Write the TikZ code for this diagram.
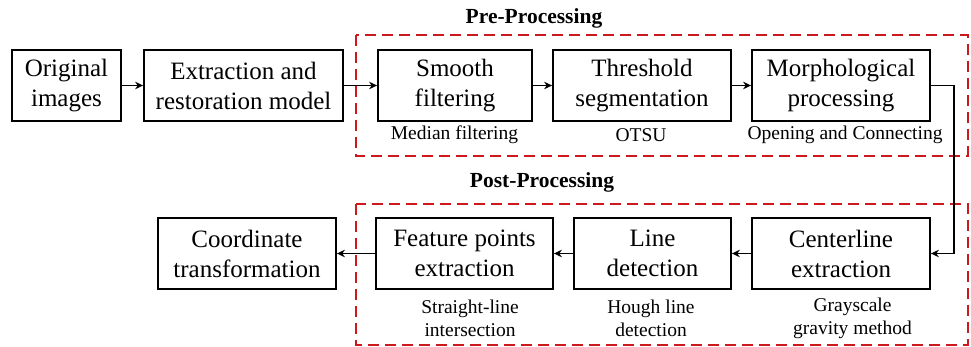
\documentclass[tikz,border=0pt]{standalone}
\usepackage{fontspec}
\setmainfont{Liberation Serif}
\usetikzlibrary{arrows.meta}
\definecolor{dashred}{RGB}{205,25,30}
\begin{document}
\begin{tikzpicture}[x=1pt,y=-1pt,
  box/.style={draw,line width=1.8pt,minimum height=71pt,inner sep=0pt,align=center,
    font=\fontsize{25}{30}\selectfont},
  sub/.style={inner sep=0pt,align=center,font=\fontsize{19.5}{23}\selectfont},
  grp/.style={inner sep=0pt,font=\fontsize{21.5}{25}\selectfont\bfseries},
  conn/.style={line width=1.8pt,-{Stealth[length=8pt,width=7.5pt]}},
  region/.style={draw=dashred,line width=2pt,dash pattern=on 11pt off 6pt}]
\useasboundingbox (0,0) rectangle (971,347);
% dashed regions
\draw[region] (356,35) rectangle (967.5,156);
\draw[region] (356,204) rectangle (968,345);
\node[grp] (pre) at (534,18) {Pre-Processing};
\node[grp] (post) at (542,182) {Post-Processing};
% top row
\node[box,minimum width=109pt] (orig) at (66.5,85.5) {Original\\images};
\node[box,minimum width=199pt] (extr) at (243.5,85.5) {Extraction and\\restoration model};
\node[box,minimum width=154pt] (smooth) at (455,85.5) {Smooth\\filtering};
\node[box,minimum width=178pt] (thresh) at (642,85.5) {Threshold\\segmentation};
\node[box,minimum width=178pt] (morph) at (841,85.5) {Morphological\\processing};
\node[sub] (s1) at (454.5,135) {Median filtering};
\node[sub] (s2) at (641,135) {OTSU};
\node[sub] (s3) at (845,135) {Opening and Connecting};
% bottom row
\node[box,minimum width=178pt] (coord) at (247,253.5) {Coordinate\\transformation};
\node[box,minimum width=177pt] (feat) at (464.5,253.5) {Feature points\\extraction};
\node[box,minimum width=157pt] (line) at (652.5,253.5) {Line\\detection};
\node[box,minimum width=178pt] (center) at (841,253.5) {Centerline\\extraction};
\node[sub] (b1) at (470,318.5) {Straight-line\\intersection};
\node[sub] (b2) at (651,318.5) {Hough line\\detection};
\node[sub] (b3) at (852.5,318.5) {Grayscale\\gravity method};
% connectors
\draw[conn] (orig) -- (extr);
\draw[conn] (extr) -- (smooth);
\draw[conn] (smooth) -- (thresh);
\draw[conn] (thresh) -- (morph);
\coordinate (c1) at (954,85.5);
\coordinate (c2) at (954,253.5);
\draw[conn] (morph.east) -- (c1) -- (c2) -- (center.east);
\draw[conn] (center) -- (line);
\draw[conn] (line) -- (feat);
\draw[conn] (feat) -- (coord);
\end{tikzpicture}
\end{document}
